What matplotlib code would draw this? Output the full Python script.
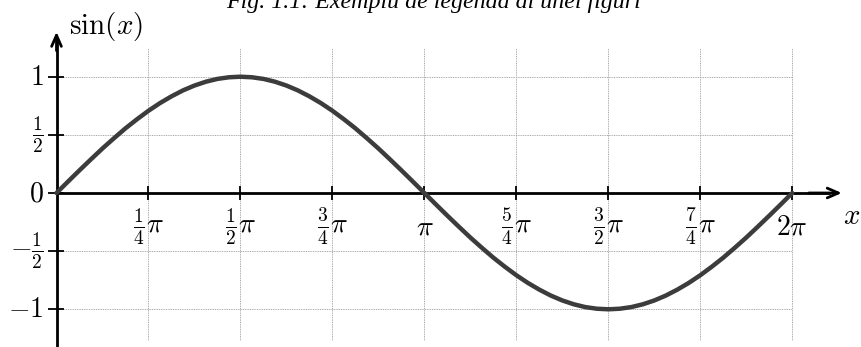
import numpy as np
import matplotlib
matplotlib.use('Agg')
from matplotlib import pyplot as plt

plt.rcParams['mathtext.fontset'] = 'cm'

# sin(x) every pi/32 from 0 to 2pi
x_pts = np.linspace(0, 2 * np.pi, 65)
sin_vals = [0.000, 0.098, 0.195, 0.290, 0.383, 0.471, 0.556, 0.634,
            0.707, 0.773, 0.831, 0.882, 0.924, 0.957, 0.981, 0.995,
            1.000, 0.995, 0.981, 0.957, 0.924, 0.882, 0.831, 0.773,
            0.707, 0.634, 0.556, 0.471, 0.383, 0.290, 0.195, 0.098,
            0.000, -0.098, -0.195, -0.290, -0.383, -0.471, -0.556, -0.634,
            -0.707, -0.773, -0.831, -0.882, -0.924, -0.957, -0.981, -0.995,
            -1.000, -0.995, -0.981, -0.957, -0.924, -0.882, -0.831, -0.773,
            -0.707, -0.634, -0.556, -0.471, -0.383, -0.290, -0.195, -0.098,
            0.000]

x_ticks = np.pi / 4 * np.array([1, 2, 3, 4, 5, 6, 7, 8])
x_tick_labels = [r'$\frac{1}{4}\pi$', r'$\frac{1}{2}\pi$', r'$\frac{3}{4}\pi$', r'$\pi$',
                 r'$\frac{5}{4}\pi$', r'$\frac{3}{2}\pi$', r'$\frac{7}{4}\pi$', r'$2\pi$']
y_ticks = [-1, -0.5, 0, 0.5, 1]
y_tick_labels = [r'$-1$', r'$-\frac{1}{2}$', r'$0$', r'$\frac{1}{2}$', r'$1$']

title = 'Fig. 1.1: Exemplu de legendă al unei figuri'

W, H = 861, 347
fig = plt.figure(figsize=(W / 100, H / 100), dpi=100)
ax = fig.add_axes([0, 0, 1, 1])
ax.set_axis_off()

# pixel layout of the picture: origin and scale
x0, y0 = 56.5, 193.0
sx, sy = 117.1, 116.3
ax.set_xlim(-x0 / sx, (W - x0) / sx)
ax.set_ylim(-(H - y0) / sy, y0 / sy)

grid_kw = dict(color='#a8a8a8', lw=0.7, linestyle=(0, (1, 0.8)), zorder=1)
ax.vlines(x_ticks, -1.26, 1.25, **grid_kw)
ax.hlines([t for t in y_ticks if t != 0], 0, x_ticks[-1], **grid_kw)

# axes with arrows
arrow = dict(arrowstyle='->,head_length=0.8,head_width=0.35', lw=2.0, color='black')
ax.plot([0, 0], [-(H - y0) / sy, 1.30], color='black', lw=2.0, zorder=3)
ax.annotate('', xy=(0, 1.41), xytext=(0, 1.2), arrowprops=arrow, zorder=3)
ax.plot([0, 6.6], [0, 0], color='black', lw=2.0, zorder=3)
ax.annotate('', xy=(6.73, 0), xytext=(6.4, 0), arrowprops=arrow, zorder=3)

# tick marks
ax.vlines(x_ticks, -0.06, 0.06, color='black', lw=1.3, zorder=3)
ax.hlines(y_ticks, -0.07, 0.06, color='black', lw=1.3, zorder=3)

for xt, lab in zip(x_ticks, x_tick_labels):
    ax.text(xt, -0.29, lab, ha='center', va='center', fontsize=20)
for yt, lab in zip(y_ticks, y_tick_labels):
    ax.text(-0.11, yt, lab, ha='right', va='center', fontsize=20)

ax.text(0.42, 1.43, r'$\sin(x)$', ha='center', va='center', fontsize=21)
ax.text(6.79, -0.2, r'$x$', ha='center', va='center', fontsize=21)

ax.plot(x_pts, sin_vals, color='#3c3c3c', lw=3.2, solid_capstyle='round',
        solid_joinstyle='round', zorder=4)

fig.text(434 / W, 1 - 8 / H, title, ha='center', va='baseline',
         fontsize=17.3, family='Liberation Serif', style='italic')

fig.savefig('out.png', dpi=100)
